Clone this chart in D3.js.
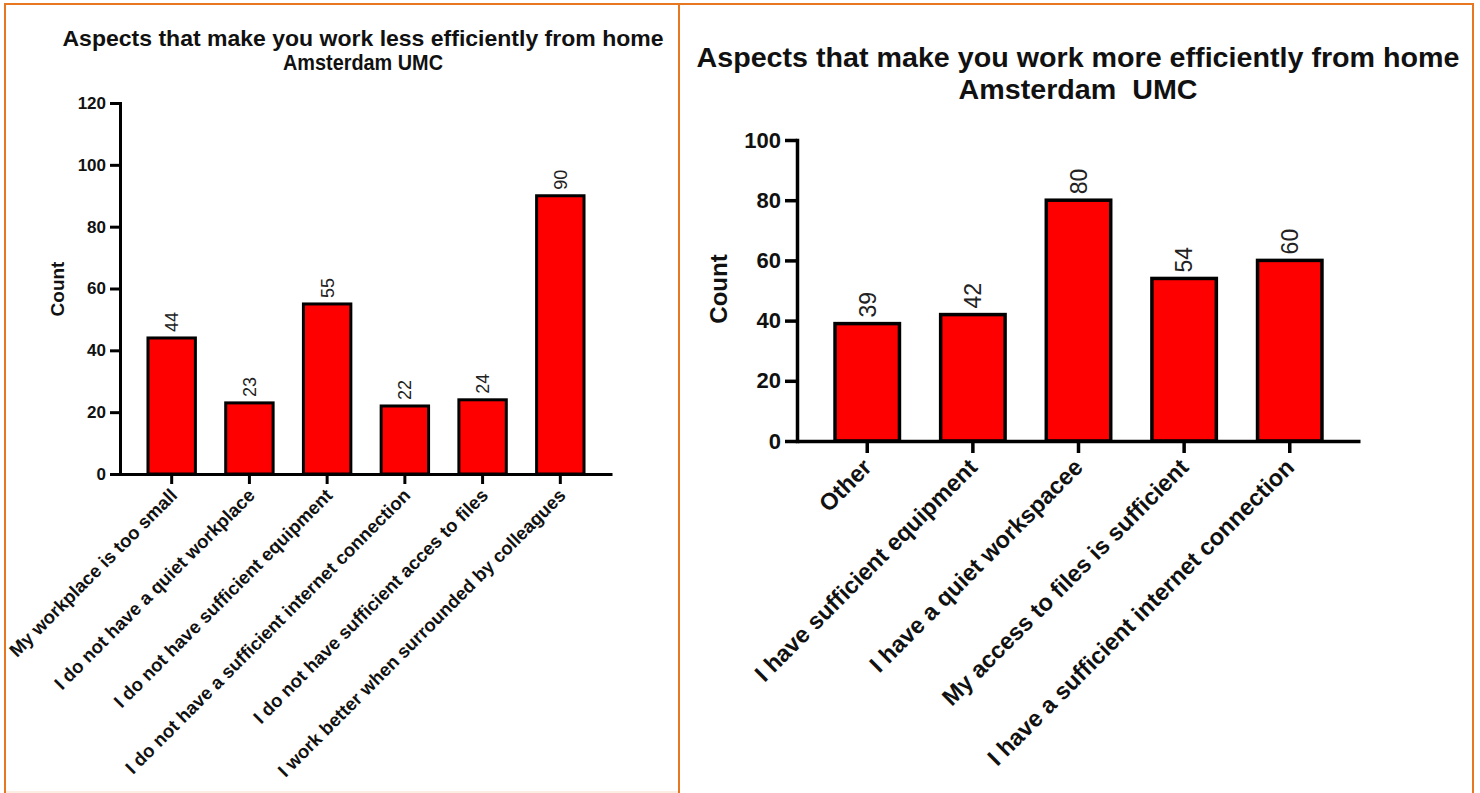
<!DOCTYPE html>
<html>
<head>
<meta charset="utf-8">
<script src="https://cdn.jsdelivr.net/npm/d3@7/dist/d3.min.js"></script>
<style>
  html, body { margin: 0; padding: 0; background: #ffffff; }
  svg { display: block; }
  text { font-family: "Liberation Sans", Arial, Helvetica, sans-serif; }
</style>
</head>
<body>
<svg id="chart" width="1480" height="793"></svg>
<script>
// Survey answers: aspects that make working from home less efficient
const lessCategories = [
  "My workplace is too small",
  "I do not have a quiet workplace",
  "I do not have sufficient equipment",
  "I do not have a sufficient internet connection",
  "I do not have sufficient acces to files",
  "I work better when surrounded by colleagues"
];
const lessCounts = [44, 23, 55, 22, 24, 90];
const lessTicks = [0, 20, 40, 60, 80, 100, 120];
const lessTitle = ["Aspects that make you work less efficiently from home", "Amsterdam UMC"];

// Survey answers: aspects that make working from home more efficient
const moreCategories = [
  "Other",
  "I have sufficient equipment",
  "I have a quiet workspacee",
  "My access to files is sufficient",
  "I have a sufficient internet connection"
];
const moreCounts = [39, 42, 80, 54, 60];
const moreTicks = [0, 20, 40, 60, 80, 100];
const moreTitle = ["Aspects that make you work more efficiently from home", "Amsterdam  UMC"];

const yLabel = "Count";

const svg = d3.select("#chart");
const frameColor = "#e87722";

// Panel frame
const frame = svg.append("g").attr("fill", "none").attr("stroke", frameColor).attr("stroke-width", 2);
frame.append("line").attr("x1", 4).attr("x2", 1474).attr("y1", 4).attr("y2", 4);
frame.append("line").attr("x1", 5).attr("x2", 5).attr("y1", 3).attr("y2", 793);
frame.append("line").attr("x1", 679).attr("x2", 679).attr("y1", 3).attr("y2", 793);
frame.append("line").attr("x1", 1473).attr("x2", 1473).attr("y1", 3).attr("y2", 793);
svg.append("line").attr("x1", 6).attr("x2", 678).attr("y1", 792).attr("y2", 792)
  .attr("stroke", "#fbeee2").attr("stroke-width", 2);

function drawBarChart(opt) {
  const g = svg.append("g");

  const x = d3.scaleBand()
    .domain(opt.categories)
    .range(opt.xRange)
    .paddingInner(0.39)
    .paddingOuter(0.36);

  const y = d3.scaleLinear()
    .domain([0, opt.ticks[opt.ticks.length - 1]])
    .range(opt.yRange);

  // Title, two centred lines
  const title = g.append("text")
    .attr("text-anchor", "middle")
    .attr("font-weight", "bold")
    .attr("font-size", opt.titleSize)
    .attr("fill", "#111")
    .style("white-space", "pre");
  opt.title.forEach((line, i) => {
    title.append("tspan")
      .attr("x", opt.titleX).attr("y", opt.titleY[i])
      .attr("textLength", opt.titleWidth[i])
      .attr("lengthAdjust", "spacingAndGlyphs")
      .text(line);
  });

  // Bars
  g.append("g").selectAll("rect")
    .data(opt.values)
    .join("rect")
    .attr("x", (d, i) => x(opt.categories[i]))
    .attr("y", d => y(d))
    .attr("width", x.bandwidth())
    .attr("height", d => y(0) - y(d))
    .attr("fill", "#ff0000")
    .attr("stroke", "#000")
    .attr("stroke-width", opt.barStroke);

  // Value labels above bars
  g.append("g").selectAll("text")
    .data(opt.values)
    .join("text")
    .attr("transform", (d, i) => {
      const cx = x(opt.categories[i]) + x.bandwidth() / 2;
      return `translate(${cx},${y(d) - opt.valueGap}) rotate(-90)`;
    })
    .attr("dy", "0.36em")
    .attr("font-size", opt.valueSize)
    .attr("fill", "#222")
    .text(d => d);

  // Y axis
  const yAxis = g.append("g")
    .attr("transform", `translate(${opt.xRange[0]},0)`)
    .call(d3.axisLeft(y).tickValues(opt.ticks).tickSize(opt.tickLen).tickSizeOuter(0).tickPadding(4));
  yAxis.selectAll("path, line").attr("stroke", "#000").attr("stroke-width", opt.axisStroke);
  yAxis.select(".domain").attr("stroke-linecap", "square");
  yAxis.selectAll("text")
    .attr("font-size", opt.tickSize)
    .attr("font-weight", "bold")
    .attr("fill", "#111")
    .attr("font-family", "Liberation Sans, Arial, sans-serif");

  // X axis
  const xAxis = g.append("g")
    .attr("transform", `translate(0,${opt.yRange[0]})`)
    .call(d3.axisBottom(x).tickSize(opt.tickLen).tickSizeOuter(0).tickFormat(""));
  xAxis.selectAll("path, line").attr("stroke", "#000").attr("stroke-width", opt.axisStroke);

  // Rotated category labels
  g.append("g").selectAll("text")
    .data(opt.categories)
    .join("text")
    .attr("transform", d => {
      const cx = x(d) + x.bandwidth() / 2 + opt.labelShift[0];
      return `translate(${cx},${opt.yRange[0] + opt.labelShift[1]}) rotate(-45)`;
    })
    .attr("text-anchor", "end")
    .attr("dy", "0.35em")
    .attr("font-size", opt.labelSize)
    .attr("font-weight", "bold")
    .attr("fill", "#111")
    .text(d => d);

  // Y axis title
  g.append("text")
    .attr("transform", `translate(${opt.yTitlePos[0]},${opt.yTitlePos[1]}) rotate(-90)`)
    .attr("text-anchor", "middle")
    .attr("dy", "0.35em")
    .attr("font-size", opt.yTitleSize)
    .attr("font-weight", "bold")
    .attr("fill", "#111")
    .text(yLabel);
}

drawBarChart({
  categories: lessCategories,
  values: lessCounts,
  ticks: lessTicks,
  title: lessTitle,
  titleX: 363, titleY: [46, 70], titleSize: 22, titleWidth: [601, 160],
  xRange: [120, 612], yRange: [474, 103],
  barStroke: 3, axisStroke: 3, tickLen: 10,
  tickSize: 17, valueSize: 18, valueGap: 6,
  labelSize: 18.5, labelShift: [2, 18],
  yTitlePos: [57, 289], yTitleSize: 19
});

drawBarChart({
  categories: moreCategories,
  values: moreCounts,
  ticks: moreTicks,
  title: moreTitle,
  titleX: 1078, titleY: [67, 99], titleSize: 27, titleWidth: [763, 239],
  xRange: [797, 1360], yRange: [441, 140],
  barStroke: 3.5, axisStroke: 3.5, tickLen: 12,
  tickSize: 22, valueSize: 23, valueGap: 6,
  labelSize: 23.5, labelShift: [0, 22],
  yTitlePos: [719, 289], yTitleSize: 24
});
</script>
</body>
</html>
